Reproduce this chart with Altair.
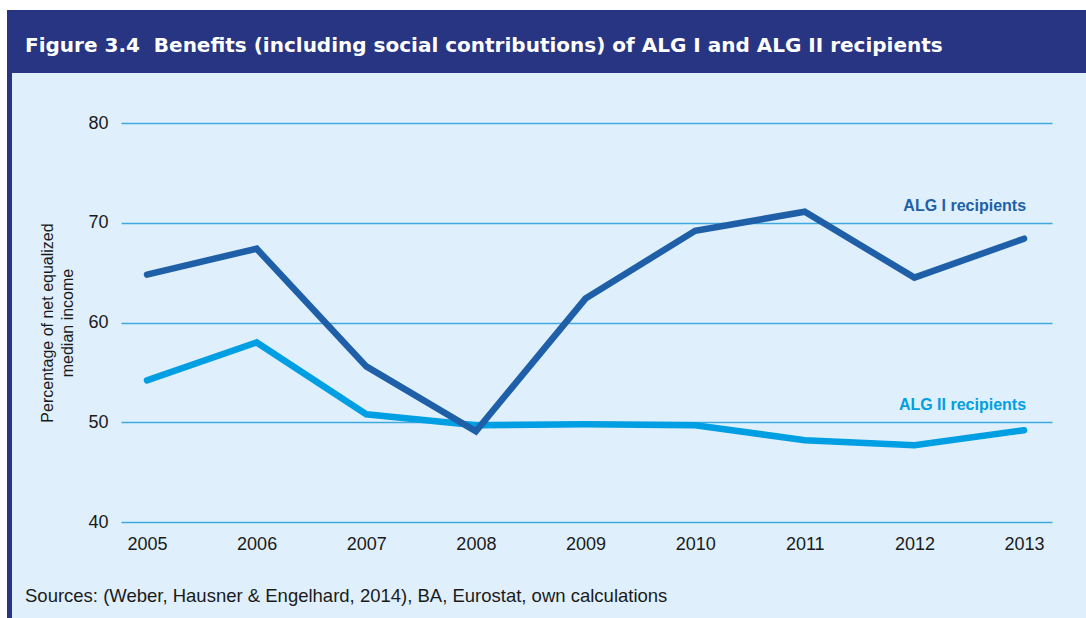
import altair as alt
import pandas as pd

# ---- data ----
years = [2005, 2006, 2007, 2008, 2009, 2010, 2011, 2012, 2013]
alg1 = [64.8, 67.4, 55.6, 49.1, 62.4, 69.2, 71.1, 64.5, 68.4]
alg2 = [54.2, 58.0, 50.8, 49.7, 49.8, 49.7, 48.2, 47.7, 49.2]
series = ["ALG I recipients", "ALG II recipients"]
y_ticks = [40, 50, 60, 70, 80]
y_title = ["Percentage of net equalized", "median income"]
title_text = "Figure 3.4\u00a0\u00a0Benefits (including social contributions) of ALG I and ALG II recipients"
source_text = "Sources: (Weber, Hausner & Engelhard, 2014), BA, Eurostat, own calculations"

# ---- styles ----
DARK = "#283583"
PANEL = "#dff0fc"
C1 = "#1e5fa8"
C2 = "#009fe3"
GRID = "#3fa9dd"
TXT = "#1a1a1a"
FONT = "Liberation Sans"

rows = []
for s, vals in zip(series, [alg1, alg2]):
    for yr, v in zip(years, vals):
        rows.append({"year": yr, "value": v, "series": s})
df = pd.DataFrame(rows)

x_scale = alt.Scale(domain=[2004.763, 2013.255], nice=False, zero=False)
y_scale = alt.Scale(domain=[40, 80], nice=False, zero=False)
color_scale = alt.Scale(domain=series, range=[C1, C2])

x_enc = alt.X(
    "year:Q",
    scale=x_scale,
    axis=alt.Axis(
        values=years, format="d", title=None, grid=False, ticks=False, domain=False,
        labelFontSize=18, labelFont=FONT, labelColor=TXT, labelPadding=13,
    ),
)
y_enc = alt.Y(
    "value:Q",
    scale=y_scale,
    axis=alt.Axis(
        values=y_ticks, title=y_title, grid=True, gridColor=GRID, gridWidth=1.5,
        ticks=False, domain=False, labelFontSize=18, labelFont=FONT, labelColor=TXT,
        labelPadding=13, titleFont=FONT, titleFontSize=16, titleFontWeight="normal",
        titleColor=TXT, titleLineHeight=20, titlePadding=12,
    ),
)
color_enc = alt.Color("series:N", scale=color_scale, legend=None)

base = alt.Chart(df)
line2 = base.transform_filter(alt.datum.series == series[1]).mark_line(
    strokeWidth=6.5, strokeCap="round"
).encode(x=x_enc, y=y_enc, color=color_enc)
line1 = base.transform_filter(alt.datum.series == series[0]).mark_line(
    strokeWidth=6.5, strokeCap="round"
).encode(x=x_enc, y=y_enc, color=color_enc)

last = base.transform_filter(alt.datum.year == years[-1])
lab1 = last.transform_filter(alt.datum.series == series[0]).mark_text(
    align="right", baseline="middle", dx=2, dy=-33, font=FONT, fontSize=16, fontWeight="bold"
).encode(x=x_enc, y=y_enc, text="series:N", color=color_enc)
lab2 = last.transform_filter(alt.datum.series == series[1]).mark_text(
    align="right", baseline="middle", dx=2, dy=-25, font=FONT, fontSize=16, fontWeight="bold"
).encode(x=x_enc, y=y_enc, text="series:N", color=color_enc)

# ---- frame decorations (outside the plot area) ----
one = alt.Data(values=[{}])
def rect(color, x0, x1, y0, y1):
    return alt.Chart(one).mark_rect(color=color).encode(
        x=alt.value(x0), x2=alt.value(x1), y=alt.value(y0), y2=alt.value(y1)
    )

white_top = rect("white", -121, 965, -123, -113)
white_left = rect("white", -121, -114, -113, 495)
banner = rect(DARK, -114, 965, -113, -50)
strip = rect(DARK, -114, -109, -50, 495)

title = alt.Chart(pd.DataFrame({"t": [title_text]})).mark_text(
    align="left", baseline="alphabetic", font="DejaVu Sans", fontWeight="bold",
    fontSize=20, color="white"
).encode(x=alt.value(-96), y=alt.value(-71), text="t:N")

source = alt.Chart(pd.DataFrame({"t": [source_text]})).mark_text(
    align="left", baseline="alphabetic", font=FONT, fontSize=18.5, color=TXT
).encode(x=alt.value(-96), y=alt.value(479), text="t:N")

chart = alt.layer(
    white_top, white_left, banner, strip, line2, line1, lab1, lab2, title, source
).properties(
    width=931,
    height=399,
    background=PANEL,
    padding={"left": 121, "top": 123, "right": 34, "bottom": 96},
    autosize=alt.AutoSizeParams(type="none"),
).configure_view(stroke=None)

chart.save("out.html", embed_options={"renderer": "svg", "actions": False})
